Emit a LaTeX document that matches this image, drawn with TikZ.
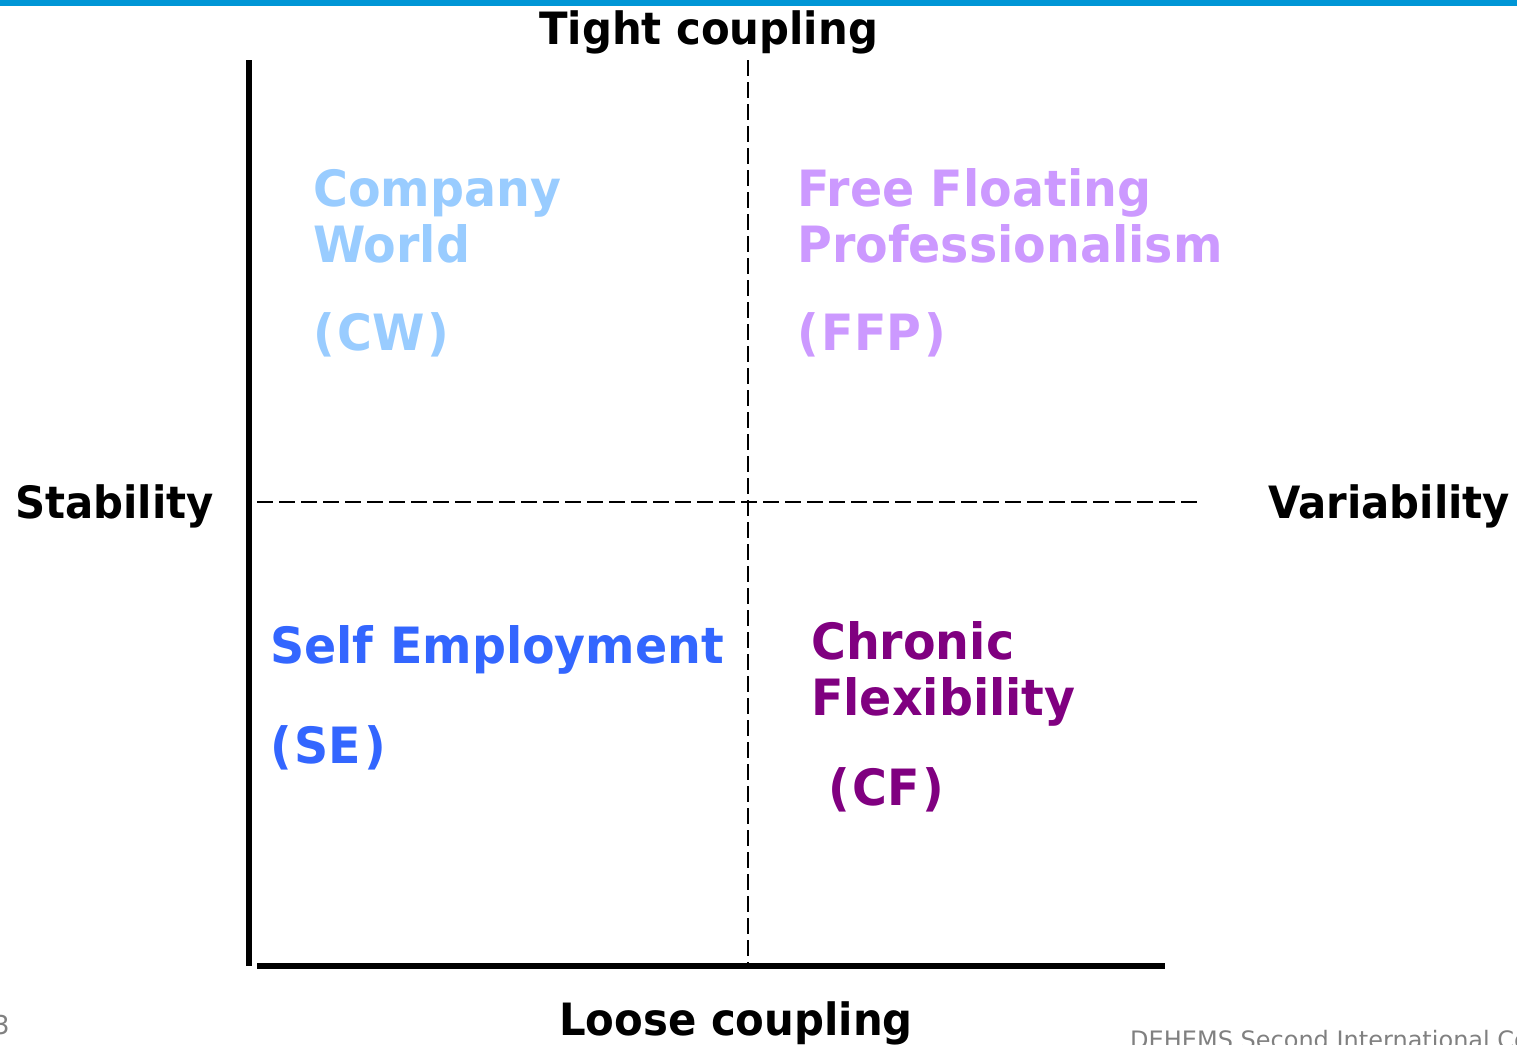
\documentclass[tikz,border=0pt]{standalone}
\usepackage{fontspec}
\setmainfont{DejaVu Sans}
\definecolor{topbar}{HTML}{0096D6}
\definecolor{cwblue}{HTML}{99CCFF}
\definecolor{ffpviolet}{HTML}{CC99FF}
\definecolor{seblue}{HTML}{3366FF}
\definecolor{cfpurple}{HTML}{800080}
\definecolor{footgray}{HTML}{808080}
\newcommand{\paren}[1]{(\kern3pt#1\kern3pt)}
\begin{document}
\begin{tikzpicture}[x=1pt,y=-1pt,
  axislabel/.style={anchor=base west,inner sep=0pt,xscale=0.94,font=\fontsize{44.5}{52}\selectfont\bfseries},
  quadtext/.style={anchor=base west,inner sep=0pt,xscale=0.95,font=\fontsize{50}{58}\selectfont\bfseries},
  footer/.style={anchor=base west,inner sep=0pt,text=footgray},
  solidaxis/.style={line width=6pt},
  divider/.style={line width=2.2pt,dash pattern=on 15.5pt off 6.5pt}]
  \useasboundingbox (0,0) rectangle (1517,1044);
  \clip (0,0) rectangle (1517,1044);
  % header stripe
  \fill[topbar] (0,0) rectangle (1517,6);

  % axes
  \coordinate (vtop) at (249,60);
  \coordinate (vbot) at (249,966);
  \coordinate (hleft) at (257,966);
  \coordinate (hright) at (1165,966);
  \draw[solidaxis] (vtop) -- (vbot);
  \draw[solidaxis] (hleft) -- (hright);

  % quadrant dividers
  \coordinate (dtop) at (748,60);
  \coordinate (dbot) at (748,963);
  \coordinate (dleft) at (257,502);
  \coordinate (dright) at (1198,502);
  \draw[divider] (dtop) -- (dbot);
  \draw[divider] (dleft) -- (dright);

  % axis labels
  \node[axislabel] (tight) at (539,44) {Tight coupling};
  \node[axislabel] (loose) at (559,1035) {Loose coupling};
  \node[axislabel] (stab) at (15,518) {Stability};
  \node[axislabel] (var) at (1268,518) {Variability};

  % quadrant labels
  \node[quadtext,text=cwblue] (cw1) at (313,206) {Company};
  \node[quadtext,text=cwblue] (cw2) at (313,262) {World};
  \node[quadtext,text=cwblue] (cw3) at (313,350) {\paren{CW}};

  \node[quadtext,text=ffpviolet] (ffp1) at (797,206) {Free Floating};
  \node[quadtext,text=ffpviolet] (ffp2) at (797,262) {Professionalism};
  \node[quadtext,text=ffpviolet] (ffp3) at (797,350) {\paren{FFP}};

  \node[quadtext,text=seblue] (se1) at (270,663) {Self Employment};
  \node[quadtext,text=seblue] (se2) at (270,763) {\paren{SE}};

  \node[quadtext,text=cfpurple] (cf1) at (811,659) {Chronic};
  \node[quadtext,text=cfpurple] (cf2) at (811,715) {Flexibility};
  \node[quadtext,text=cfpurple] (cf3) at (828,805) {\paren{CF}};

  % footer
  \node[footer,font=\fontsize{26}{30}\selectfont] (pageno) at (-7,1034) {3};
  \node[footer,font=\fontsize{24}{28}\selectfont] (event) at (1130,1048) {DEHEMS Second International Conference};
\end{tikzpicture}
\end{document}
